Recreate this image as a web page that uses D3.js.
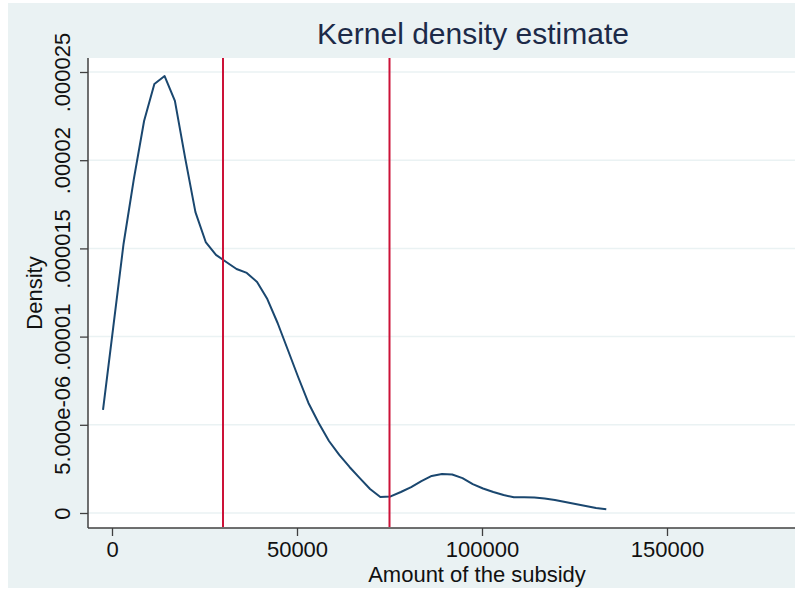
<!DOCTYPE html>
<html>
<head>
<meta charset="utf-8">
<script src="https://d3js.org/d3.v7.min.js"></script>
<style>
    html, body { margin: 0; padding: 0; background: #ffffff; }
    #chart { width: 795px; height: 592px; }
    text { font-family: "Liberation Sans", Arial, sans-serif; }
</style>
</head>
<body>
<div id="chart"></div>
<script>
// kdensity evaluation points (amount of the subsidy) and estimated density
var amounts = [
    -2430, 340, 3120, 5900, 8670, 11450, 14220, 17000, 19780, 22550,
    25330, 28100, 30880, 33660, 36430, 39210, 41980, 44760, 47540, 50310,
    53090, 55860, 58640, 61420, 64190, 66970, 69740, 72520, 75300, 78070,
    80850, 83620, 86400, 89180, 91950, 94730, 97500, 100280, 103060, 105830,
    108610, 111380, 114160, 116940, 119710, 122490, 125260, 128040, 130820, 133590
];
var density = [
    5.84e-6, 10.54e-6, 15.25e-6, 18.93e-6, 22.22e-6, 24.32e-6, 24.77e-6, 23.36e-6, 20.12e-6, 17.06e-6,
    15.36e-6, 14.63e-6, 14.23e-6, 13.83e-6, 13.61e-6, 13.10e-6, 12.13e-6, 10.77e-6, 9.24e-6, 7.71e-6,
    6.24e-6, 5.10e-6, 4.08e-6, 3.29e-6, 2.61e-6, 1.98e-6, 1.36e-6, 0.91e-6, 0.94e-6, 1.19e-6,
    1.47e-6, 1.81e-6, 2.10e-6, 2.21e-6, 2.18e-6, 1.98e-6, 1.64e-6, 1.39e-6, 1.19e-6, 1.02e-6,
    0.89e-6, 0.89e-6, 0.88e-6, 0.82e-6, 0.74e-6, 0.62e-6, 0.51e-6, 0.40e-6, 0.28e-6, 0.21e-6
];
var xlines = [30000, 75000];
var xTicks = [0, 50000, 100000, 150000];
var yTicks = [0, 0.000005, 0.00001, 0.000015, 0.00002, 0.000025];
var yTickLabels = ['0', '5.000e-06', '.00001', '.000015', '.00002', '.000025'];

var width = 795,
    height = 592,
    plotLeft = 88,
    plotTop = 58,
    plotBottom = 528,
    plotRight = 870,
    bg = '#eaf2f3',
    navy = '#1a476f',
    red = '#cc1238'
;

var svg = d3
    .select('#chart')
    .append('svg')
    .attr('width', width)
    .attr('height', height)
;

// graph region + plot region
svg.append('rect')
    .attr('x', 8)
    .attr('y', 3)
    .attr('width', width - 8)
    .attr('height', 585)
    .style('fill', bg)
;
svg.append('rect')
    .attr('x', plotLeft)
    .attr('y', plotTop)
    .attr('width', plotRight - plotLeft)
    .attr('height', plotBottom - plotTop)
    .style('fill', '#ffffff')
;

var x = d3.scaleLinear()
    .domain([0, 150000])
    .range([112, 667])
;
var y = d3.scaleLinear()
    .domain([0, 0.000025])
    .range([513, 72])
;

// gridlines
svg.append('g')
    .selectAll('line')
    .data(yTicks)
    .enter()
    .append('line')
    .attr('x1', plotLeft)
    .attr('x2', plotRight)
    .attr('y1', function(d) { return y(d); })
    .attr('y2', function(d) { return y(d); })
    .style('stroke', bg)
    .style('stroke-width', 1.5)
;

// x axis
var xAxis = svg.append('g')
    .attr('transform', 'translate(0,' + plotBottom + ')')
    .call(d3.axisBottom(x)
        .tickValues(xTicks)
        .tickSize(8)
        .tickPadding(6)
        .tickFormat(function(d) { return String(d); }))
;
// y axis
var yAxis = svg.append('g')
    .attr('transform', 'translate(' + plotLeft + ',0)')
    .call(d3.axisLeft(y)
        .tickValues(yTicks)
        .tickSize(8)
        .tickFormat(function(d, i) { return yTickLabels[i]; }))
;

[xAxis, yAxis].forEach(function(ax) {
    ax.select('.domain').remove();
    ax.selectAll('.tick line')
        .style('stroke', '#404040')
        .style('stroke-width', 1.3);
    ax.selectAll('.tick text')
        .style('font-size', '22px')
        .style('fill', '#111111');
});

xAxis.selectAll('.tick text')
    .attr('dy', null)
    .attr('y', 29)
;
yAxis.selectAll('.tick text')
    .attr('x', null)
    .attr('dy', null)
    .attr('text-anchor', 'middle')
    .attr('transform', 'translate(-18,0) rotate(-90)')
;

// axis lines
svg.append('line')
    .attr('x1', plotLeft).attr('x2', plotLeft)
    .attr('y1', plotTop).attr('y2', plotBottom)
    .style('stroke', '#404040')
    .style('stroke-width', 1.5)
;
svg.append('line')
    .attr('x1', plotLeft).attr('x2', plotRight)
    .attr('y1', plotBottom).attr('y2', plotBottom)
    .style('stroke', '#404040')
    .style('stroke-width', 1.5)
;

// density curve
var line = d3.line()
    .x(function(d, i) { return x(amounts[i]); })
    .y(function(d) { return y(d); })
;
svg.append('path')
    .datum(density)
    .attr('d', line)
    .style('fill', 'none')
    .style('stroke', navy)
    .style('stroke-width', 2)
    .style('stroke-linejoin', 'round')
;

// reference lines
svg.append('g')
    .selectAll('line')
    .data(xlines)
    .enter()
    .append('line')
    .attr('x1', function(d) { return x(d); })
    .attr('x2', function(d) { return x(d); })
    .attr('y1', plotTop)
    .attr('y2', plotBottom - 1)
    .style('stroke', red)
    .style('stroke-width', 2)
;

// titles
svg.append('text')
    .attr('x', 473)
    .attr('y', 44)
    .attr('text-anchor', 'middle')
    .style('font-size', '30px')
    .style('fill', '#1c2a48')
    .text('Kernel density estimate')
;
svg.append('text')
    .attr('x', 477)
    .attr('y', 582)
    .attr('text-anchor', 'middle')
    .style('font-size', '22px')
    .style('fill', '#111111')
    .text('Amount of the subsidy')
;
svg.append('text')
    .attr('transform', 'translate(42,' + (plotTop + plotBottom) / 2 + ') rotate(-90)')
    .attr('text-anchor', 'middle')
    .style('font-size', '22px')
    .style('fill', '#111111')
    .text('Density')
;
</script>
</body>
</html>
